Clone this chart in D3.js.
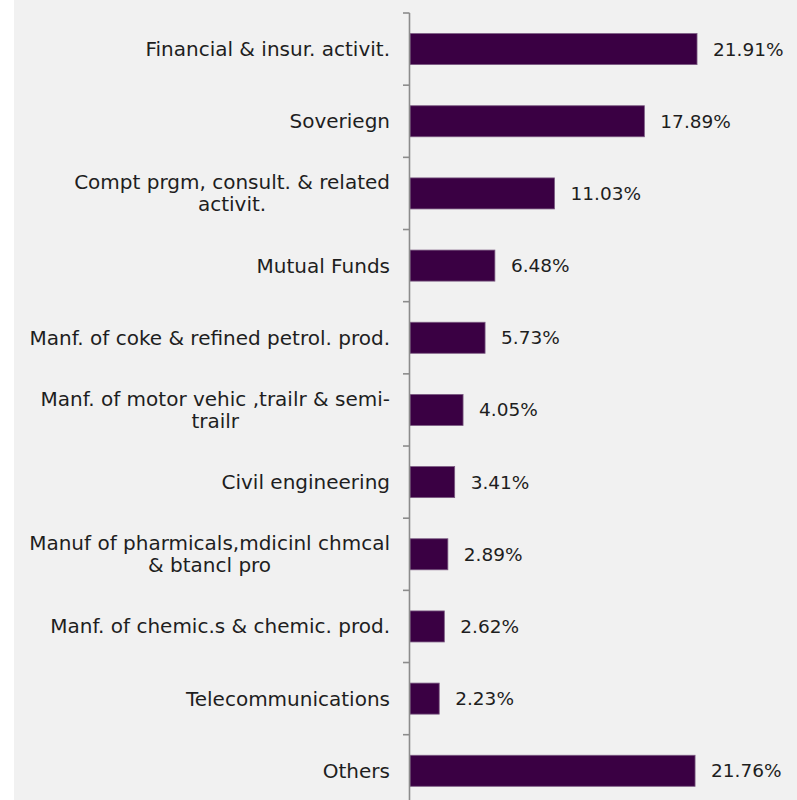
<!DOCTYPE html>
<html>
<head>
<meta charset="utf-8">
<script src="https://cdn.jsdelivr.net/npm/d3@7/dist/d3.min.js"></script>
<style>
  html, body { margin: 0; padding: 0; background: #ffffff; }
  svg { display: block; }
  text { font-family: "DejaVu Sans", sans-serif; fill: #1e1e1e; }
</style>
</head>
<body>
<svg id="chart" width="797" height="800"></svg>
<script>
// Sector allocation (% of portfolio), top to bottom
const categories = [
  "Financial & insur. activit.",
  "Soveriegn",
  "Compt prgm, consult. & related|activit.",
  "Mutual Funds",
  "Manf. of coke & refined petrol. prod.",
  "Manf. of motor vehic ,trailr & semi-|trailr",
  "Civil engineering",
  "Manuf of pharmicals,mdicinl chmcal|& btancl pro",
  "Manf. of chemic.s & chemic. prod.",
  "Telecommunications",
  "Others"
];
const values = [21.91, 17.89, 11.03, 6.48, 5.73, 4.05, 3.41, 2.89, 2.62, 2.23, 21.76];
const valueLabels = ["21.91%", "17.89%", "11.03%", "6.48%", "5.73%", "4.05%", "3.41%", "2.89%", "2.62%", "2.23%", "21.76%"];

const svg = d3.select("#chart");
const W = 797, H = 800;
const axisX = 410;
const catFont = 20;
const valFont = 18.5;

// panel background
svg.append("rect").attr("x", 14).attr("y", 0).attr("width", W - 14).attr("height", H).attr("fill", "#f1f1f1");

const y = d3.scaleBand()
  .domain(categories)
  .range([13, 13 + 11 * 72.17])
  .paddingInner(0.57)
  .paddingOuter(0.285);

const x = d3.scaleLinear().domain([0, 25]).range([axisX, axisX + 327.5]);

const data = categories.map((c, i) => ({ c, v: values[i], label: valueLabels[i] }));

// bars
svg.append("g").selectAll("rect").data(data).join("rect")
  .attr("x", x(0))
  .attr("y", d => y(d.c))
  .attr("width", d => x(d.v) - x(0))
  .attr("height", y.bandwidth())
  .attr("fill", "#3a0043")
  .attr("stroke", "#7b5a82")
  .attr("stroke-width", 0.8);

// value labels
svg.append("g").selectAll("text").data(data).join("text")
  .attr("x", d => x(d.v) + 16)
  .attr("y", d => y(d.c) + y.bandwidth() / 2)
  .attr("dy", "0.35em")
  .attr("font-size", valFont)
  .text(d => d.label);

// category axis: vertical line with ticks at band boundaries
const axisG = svg.append("g");
const step = y.step();
const y0 = y.range()[0];
axisG.append("line")
  .attr("x1", axisX - 0.5).attr("x2", axisX - 0.5)
  .attr("y1", y0).attr("y2", H + 20)
  .attr("stroke", "#8c8c8c").attr("stroke-width", 1.6);
axisG.selectAll("line.tick").data(d3.range(categories.length + 1)).join("line")
  .attr("class", "tick")
  .attr("x1", axisX - 7).attr("x2", axisX - 0.5)
  .attr("y1", i => y0 + i * step).attr("y2", i => y0 + i * step)
  .attr("stroke", "#8c8c8c").attr("stroke-width", 1.6);

// category labels, wrapped lines centred within a right-aligned block
const labelRight = 390;
const lineH = 22;
const labelG = svg.append("g");
data.forEach(d => {
  const lines = d.c.split("|");
  const g = labelG.append("g");
  const texts = lines.map((ln, k) => g.append("text")
    .attr("font-size", catFont)
    .attr("text-anchor", "middle")
    .attr("dy", "0.35em")
    .attr("y", y(d.c) + y.bandwidth() / 2 + (k - (lines.length - 1) / 2) * lineH)
    .text(ln));
  const maxW = d3.max(texts, t => t.node().getComputedTextLength());
  texts.forEach(t => t.attr("x", labelRight - maxW / 2));
});
</script>
</body>
</html>
